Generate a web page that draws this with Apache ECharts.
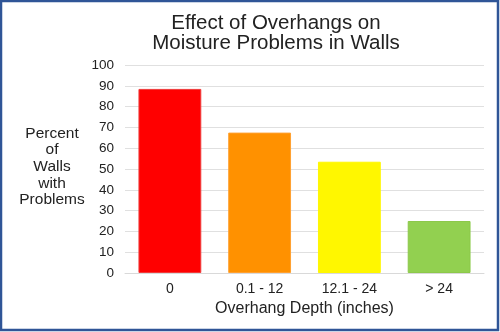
<!DOCTYPE html>
<html>
<head>
<meta charset="utf-8">
<script src="https://cdn.jsdelivr.net/npm/echarts@6/dist/echarts.min.js"></script>
<style>
  html, body { margin: 0; padding: 0; background: #fff; }
  #chart { width: 500px; height: 332px; }
</style>
</head>
<body>
<div id="chart"></div>
<script>
// Overhang depth groups and share of walls with moisture problems (%)
const categories = ['0', '0.1 - 12', '12.1 - 24', '> 24'];
const percentValues = [88.5, 67.5, 53.5, 25];
const barColors = ['#ff0000', '#ff9100', '#fff700', '#92d050'];
const barEdges = ['#f03a3a', '#ffa030', '#fff700', '#8cc84a'];
const yTicks = { min: 0, max: 100, interval: 10 };

const font = '"Liberation Sans", Arial, Helvetica, sans-serif';
const chart = echarts.init(document.getElementById('chart'), null, { renderer: 'canvas' });

chart.setOption({
  animation: false,
  backgroundColor: '#ffffff',
  title: {
    text: 'Effect of Overhangs on\nMoisture Problems in Walls',
    left: 271,
    top: 8,
    textAlign: 'center',
    textStyle: { fontFamily: font, fontSize: 20.5, fontWeight: 'normal', color: '#222', lineHeight: 20 }
  },
  grid: { left: 125, right: 16, top: 65, bottom: 59 },
  xAxis: {
    type: 'category',
    data: categories,
    name: 'Overhang Depth (inches)',
    nameLocation: 'middle',
    nameGap: 26,
    nameTextStyle: { fontFamily: font, fontSize: 16, color: '#222' },
    axisLine: { show: true, lineStyle: { color: '#d9d9d9', width: 1 } },
    axisTick: { show: false },
    axisLabel: { fontFamily: font, fontSize: 14, color: '#222', margin: 9 }
  },
  yAxis: {
    type: 'value',
    min: yTicks.min,
    max: yTicks.max,
    interval: yTicks.interval,
    axisLine: { show: false },
    axisTick: { show: false },
    axisLabel: { fontFamily: font, fontSize: 13.5, color: '#222', margin: 11 },
    splitLine: { lineStyle: { color: '#e0e0e0', width: 1 } }
  },
  series: [{
    type: 'bar',
    data: percentValues.map((v, i) => ({
      value: v,
      itemStyle: { color: barColors[i], borderColor: barEdges[i], borderWidth: 1 }
    })),
    barCategoryGap: '30%'
  }],
  graphic: [
    {
      type: 'text',
      x: 52,
      y: 125,
      style: {
        text: 'Percent\nof\nWalls\nwith\nProblems',
        textAlign: 'center',
        textVerticalAlign: 'top',
        font: '15.5px ' + font,
        lineHeight: 16.7,
        fill: '#222'
      }
    },
    {
      type: 'rect',
      shape: { x: 1, y: 1, width: 497, height: 329 },
      style: { fill: 'none', stroke: '#2f5597', lineWidth: 2.5 },
      silent: true
    }
  ]
});
</script>
</body>
</html>
